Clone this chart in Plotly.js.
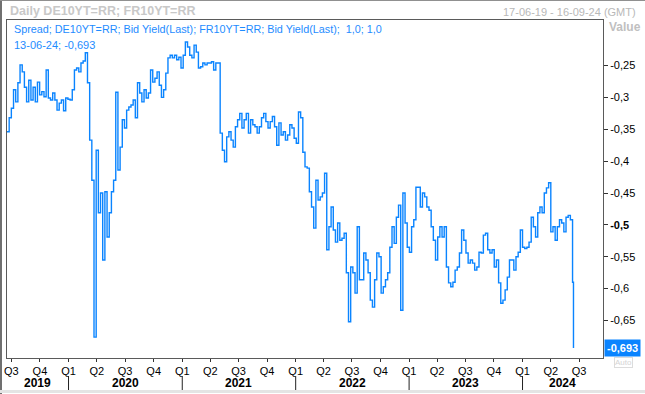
<!DOCTYPE html>
<html><head><meta charset="utf-8">
<script src="https://cdn.plot.ly/plotly-3.0.1.min.js"></script>
<style>html,body{margin:0;padding:0;background:#fff;overflow:hidden}#chart{width:645px;height:394px}</style>
</head><body><div id="chart"></div>
<script>
// ---- data ----
const seriesStart = '2019-06-17';   // first weekly observation
const lastDate = '2024-06-13';
const lastValue = -0.693;
const spreadWeekly = [
-0.354,-0.332,-0.317,-0.288,-0.307,-0.277,-0.249,-0.260,-0.284,-0.307,
-0.273,-0.304,-0.284,-0.307,-0.276,-0.296,-0.291,-0.299,-0.257,-0.301,
-0.304,-0.293,-0.304,-0.320,-0.309,-0.304,-0.321,-0.301,-0.303,-0.304,
-0.288,-0.257,-0.254,-0.260,-0.246,-0.243,-0.230,-0.277,-0.367,-0.430,
-0.676,-0.383,-0.481,-0.450,-0.555,-0.448,-0.519,-0.481,-0.448,-0.430,
-0.292,-0.414,-0.378,-0.335,-0.348,-0.320,-0.315,-0.312,-0.304,-0.332,
-0.277,-0.293,-0.307,-0.288,-0.301,-0.293,-0.257,-0.276,-0.270,-0.260,
-0.281,-0.300,-0.288,-0.262,-0.238,-0.234,-0.238,-0.234,-0.241,-0.237,
-0.254,-0.234,-0.213,-0.221,-0.234,-0.238,-0.218,-0.229,-0.254,-0.252,
-0.246,-0.249,-0.246,-0.246,-0.244,-0.257,-0.246,-0.246,-0.356,-0.383,
-0.401,-0.362,-0.354,-0.367,-0.378,-0.346,-0.335,-0.325,-0.348,-0.335,
-0.325,-0.356,-0.335,-0.343,-0.346,-0.356,-0.346,-0.332,-0.325,-0.338,
-0.348,-0.338,-0.330,-0.346,-0.375,-0.340,-0.359,-0.354,-0.367,-0.359,
-0.343,-0.348,-0.364,-0.372,-0.323,-0.332,-0.386,-0.409,-0.411,-0.448,
-0.472,-0.505,-0.430,-0.461,-0.456,-0.450,-0.419,-0.539,-0.503,-0.472,
-0.508,-0.527,-0.497,-0.524,-0.521,-0.513,-0.575,-0.652,-0.566,-0.575,
-0.607,-0.503,-0.586,-0.586,-0.544,-0.555,-0.575,-0.618,-0.629,-0.586,
-0.544,-0.550,-0.607,-0.597,-0.586,-0.575,-0.535,-0.503,-0.529,-0.488,
-0.469,-0.634,-0.450,-0.497,-0.535,-0.543,-0.503,-0.492,-0.441,-0.441,
-0.472,-0.450,-0.456,-0.472,-0.477,-0.503,-0.524,-0.555,-0.519,-0.503,
-0.519,-0.503,-0.566,-0.591,-0.597,-0.590,-0.571,-0.566,-0.544,-0.508,
-0.524,-0.544,-0.560,-0.555,-0.560,-0.571,-0.566,-0.543,-0.544,-0.516,
-0.513,-0.539,-0.544,-0.539,-0.566,-0.555,-0.591,-0.623,-0.618,-0.602,
-0.582,-0.555,-0.555,-0.571,-0.550,-0.543,-0.508,-0.535,-0.537,-0.535,
-0.527,-0.488,-0.503,-0.519,-0.481,-0.472,-0.481,-0.450,-0.442,-0.434,
-0.511,-0.503,-0.524,-0.503,-0.492,-0.497,-0.511,-0.488,-0.485,-0.492,
-0.590
];
const quarterTickDates = ['2019-07-01','2019-10-01','2020-01-01','2020-04-01','2020-07-01','2020-10-01',
  '2021-01-01','2021-04-01','2021-07-01','2021-10-01','2022-01-01','2022-04-01','2022-07-01','2022-10-01',
  '2023-01-01','2023-04-01','2023-07-01','2023-10-01','2024-01-01','2024-04-01','2024-07-01'];
const quarterTickText = ['Q3','Q4','Q1','Q2','Q3','Q4','Q1','Q2','Q3','Q4','Q1','Q2','Q3','Q4',
  'Q1','Q2','Q3','Q4','Q1','Q2','Q3'];
const years = ['2019','2020','2021','2022','2023','2024'];
const yTickVals = [-0.25,-0.3,-0.35,-0.4,-0.45,-0.5,-0.55,-0.6,-0.65];
const yTickText = ['-0,25','-0,3','-0,35','-0,4','-0,45','<b>-0,5</b>','-0,55','-0,6','-0,65'];
const xRange = ['2019-06-17','2024-09-16'];
const yRange = [-0.7088,-0.1786];

// ---- build ----
const DAY = 86400000;
const t0 = Date.parse(seriesStart + 'T00:00:00Z');
const fmt = ms => new Date(ms).toISOString().slice(0,10);
const xs = spreadWeekly.map((_, i) => fmt(t0 + i*7*DAY));
const ys = spreadWeekly.slice();
xs.push(lastDate); ys.push(lastValue);

// pixel helpers for text placement (plot box 7..603 x 20..358)
const PL=7, PR=603, PT=20, PB=358;
const px = x => (x-PL)/(PR-PL);
const py = y => (PB-y)/(PB-PT);

const BLUE = '#0a84ff';
const annotations = [];
annotations.push({xref:'paper',yref:'paper',x:px(8),y:py(11),xanchor:'left',yanchor:'middle',showarrow:false,
  text:'<b>Daily DE10YT=RR; FR10YT=RR</b>',font:{size:12.5,color:'#c8c8c8'}});
annotations.push({xref:'paper',yref:'paper',x:px(638),y:py(12),xanchor:'right',yanchor:'middle',showarrow:false,
  text:'17-06-19 - 16-09-24 (GMT)',font:{size:11,color:'#b8b8b8'}});
annotations.push({xref:'paper',yref:'paper',x:px(607),y:py(27),xanchor:'left',yanchor:'middle',showarrow:false,
  text:'<b>Value</b>',font:{size:12,color:'#c0c0c0'}});
annotations.push({xref:'paper',yref:'paper',x:px(12),y:py(29),xanchor:'left',yanchor:'middle',showarrow:false,
  text:'Spread; DE10YT=RR; Bid Yield(Last); FR10YT=RR; Bid Yield(Last);\u00a0 1,0; 1,0',font:{size:10.8,color:'#1e8cff'}});
const dd = lastDate.split('-');
annotations.push({xref:'paper',yref:'paper',x:px(12),y:py(45),xanchor:'left',yanchor:'middle',showarrow:false,
  text:dd[2]+'-'+dd[1]+'-'+dd[0].slice(2)+'; '+lastValue.toFixed(3).replace('.',','),font:{size:11,color:'#1e8cff'}});
// years
const rs = Date.parse(xRange[0]+'T00:00:00Z'), re = Date.parse(xRange[1]+'T00:00:00Z');
years.forEach(yr => {
  const a = Math.max(rs, Date.parse(yr+'-01-01T00:00:00Z'));
  const b = Math.min(re, Date.parse((+yr+1)+'-01-01T00:00:00Z'));
  annotations.push({xref:'x',yref:'paper',x:fmt((a+b)/2),y:py(383),xanchor:'center',yanchor:'middle',showarrow:false,
    text:'<b>'+yr+'</b>',font:{size:12,color:'#000'}});
});
annotations.push({xref:'paper',yref:'paper',x:px(623),y:py(362),xanchor:'center',yanchor:'middle',showarrow:false,
  text:'Auto',font:{size:8,color:'#d4d4d4'},bordercolor:'#dcdcdc',borderwidth:1,borderpad:0});
annotations.push({xref:'paper',yref:'y',x:1,y:lastValue,xanchor:'left',yanchor:'middle',xshift:1,showarrow:false,
  text:'<b>'+lastValue.toFixed(3).replace('.',',')+'</b>',font:{size:11,color:'#fff'},bgcolor:BLUE,borderpad:2});

const shapes = [];
years.slice(1).forEach(yr => shapes.push({type:'line',xref:'x',yref:'paper',x0:yr+'-01-01',x1:yr+'-01-01',
  y0:py(376),y1:py(391),line:{color:'#222',width:1}}));
// outer frame
shapes.push({type:'line',xref:'paper',yref:'paper',x0:px(1),x1:px(1),y0:py(0),y1:py(394),line:{color:'#707070',width:2}});
shapes.push({type:'line',xref:'paper',yref:'paper',x0:px(0),x1:px(645),y0:py(0.5),y1:py(0.5),line:{color:'#909090',width:1}});
shapes.push({type:'line',xref:'paper',yref:'paper',x0:px(0),x1:px(645),y0:py(391.5),y1:py(391.5),line:{color:'#e4e4e4',width:3}});

const trace = {type:'scatter',mode:'lines',x:xs,y:ys,line:{color:BLUE,width:1.4,shape:'hv'},hoverinfo:'skip'};

const layout = {
  width:645,height:394,margin:{l:PL,r:645-PR,t:PT,b:394-PB},
  paper_bgcolor:'#fff',plot_bgcolor:'#fff',showlegend:false,
  separators:',.',
  font:{family:'"Liberation Sans", Arial, sans-serif',size:11,color:'#000'},
  xaxis:{type:'date',range:xRange,tickmode:'array',tickvals:quarterTickDates,ticktext:quarterTickText,
    ticks:'outside',ticklen:3,tickwidth:1,tickcolor:'#333',showgrid:false,zeroline:false,
    showline:true,mirror:true,linecolor:'#5a5a5a',linewidth:1,tickfont:{size:11,color:'#000'},fixedrange:true},
  yaxis:{side:'right',range:yRange,tickmode:'array',tickvals:yTickVals,ticktext:yTickText,
    ticks:'outside',ticklen:4,tickwidth:1,tickcolor:'#333',showgrid:false,zeroline:false,
    showline:true,mirror:true,linecolor:'#5a5a5a',linewidth:1,tickfont:{size:11,color:'#000'},fixedrange:true},
  annotations:annotations,shapes:shapes
};
Plotly.newPlot('chart',[trace],layout,{staticPlot:true,displayModeBar:false});
</script></body></html>
